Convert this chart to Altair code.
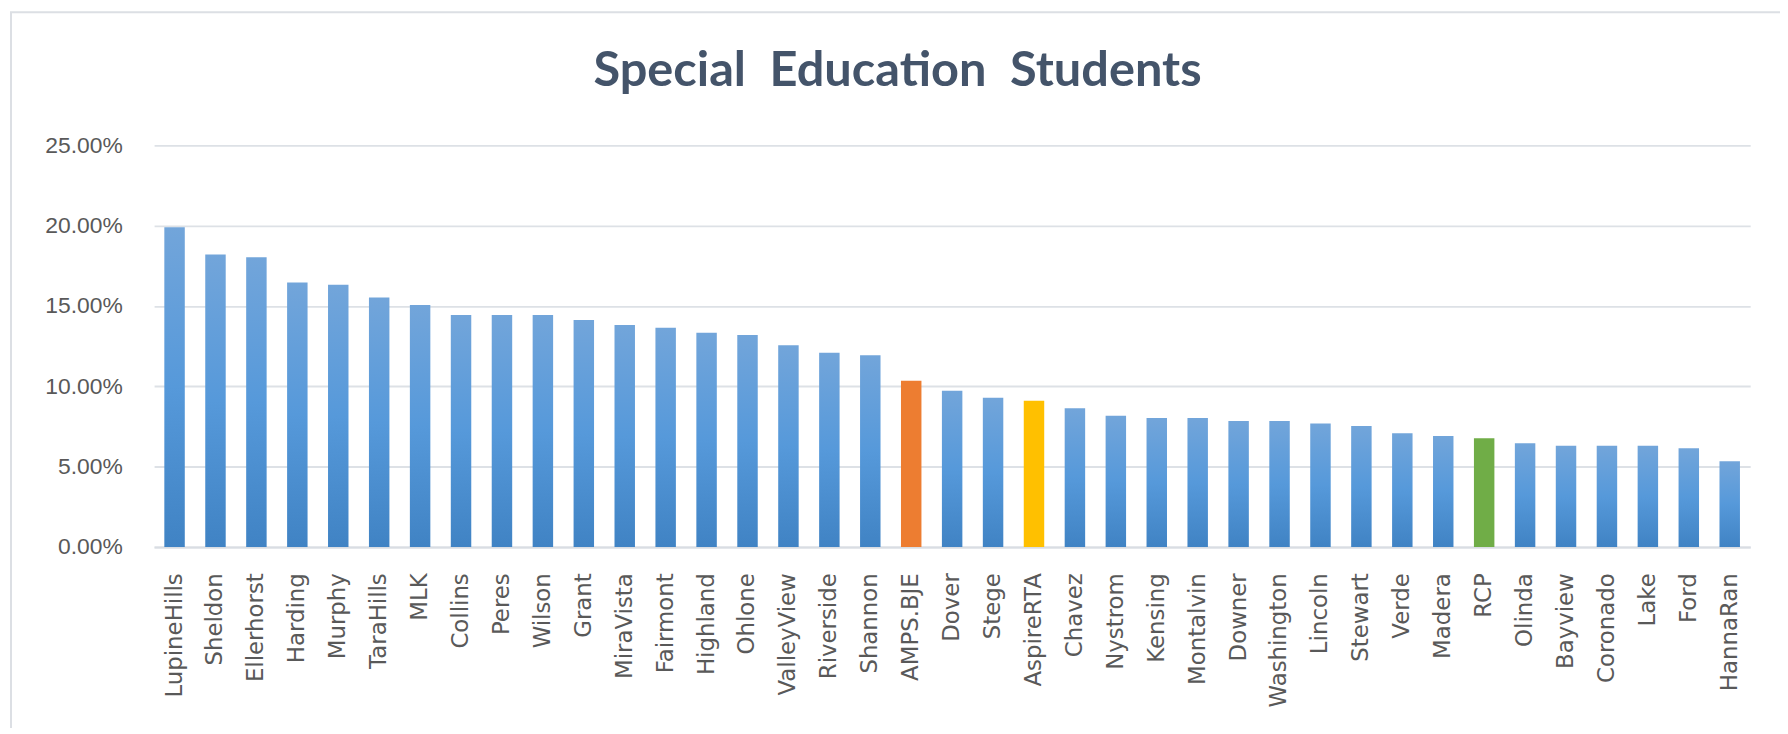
import altair as alt
import pandas as pd

schools = ["LupineHills", "Sheldon", "Ellerhorst", "Harding", "Murphy", "TaraHills", "MLK",
           "Collins", "Peres", "Wilson", "Grant", "MiraVista", "Fairmont", "Highland", "Ohlone",
           "ValleyView", "Riverside", "Shannon", "AMPS.BJE", "Dover", "Stege", "AspireRTA",
           "Chavez", "Nystrom", "Kensing", "Montalvin", "Downer", "Washington", "Lincoln",
           "Stewart", "Verde", "Madera", "RCP", "Olinda", "Bayview", "Coronado", "Lake",
           "Ford", "HannaRan"]
pct = [0.1991, 0.1820, 0.1803, 0.1646, 0.1632, 0.1553, 0.1506, 0.1444, 0.1444, 0.1444,
       0.1413, 0.1382, 0.1364, 0.1333, 0.1320, 0.1256, 0.1209, 0.1194, 0.1034, 0.0972,
       0.0928, 0.0910, 0.0864, 0.0817, 0.0802, 0.0802, 0.0784, 0.0784, 0.0769, 0.0753,
       0.0707, 0.0691, 0.0676, 0.0645, 0.0629, 0.0629, 0.0629, 0.0614, 0.0534]
highlighted = ["AMPS.BJE", "AspireRTA", "RCP"]
highlight_colors = ["#ED7D31", "#FFC000", "#70AD47"]
y_ticks = [0, 0.05, 0.10, 0.15, 0.20, 0.25]
title_text = "Special\u00a0\u00a0Education\u00a0\u00a0Students"

df = pd.DataFrame({"school": schools, "pct": pct})

blue_gradient = {
    "gradient": "linear", "x1": 0, "y1": 0, "x2": 0, "y2": 1,
    "stops": [
        {"offset": 0, "color": "#72a5da"},
        {"offset": 0.5, "color": "#5699da"},
        {"offset": 1, "color": "#4083c4"},
    ],
}

x_enc = alt.X(
    "school:N", sort=schools, title=None,
    scale=alt.Scale(paddingInner=0.5, paddingOuter=0.25),
    axis=alt.Axis(labelAngle=270, labelFont="DejaVu Sans", labelFontSize=23,
                  labelColor="#595959", ticks=False, labelPadding=26,
                  domainColor="#d9dde3", domainWidth=2, grid=False),
)
y_enc = alt.Y(
    "pct:Q", title=None,
    scale=alt.Scale(domain=[0, 0.25]),
    axis=alt.Axis(values=y_ticks, format=".2%", labelFont="Liberation Sans",
                  labelFontSize=23, labelColor="#595959", ticks=False, domain=False,
                  labelPadding=32, gridColor="#dde1e6", gridWidth=2),
)

base = alt.Chart(df).encode(x=x_enc, y=y_enc)

blue = base.transform_filter(
    ~alt.FieldOneOfPredicate(field="school", oneOf=highlighted)
).mark_bar(color=blue_gradient)

hl = base.transform_filter(
    alt.FieldOneOfPredicate(field="school", oneOf=highlighted)
).mark_bar().encode(
    color=alt.Color("school:N", scale=alt.Scale(domain=highlighted, range=highlight_colors),
                    legend=None)
)

border = alt.Chart(pd.DataFrame({"k": [0]})).mark_rect(
    filled=False, stroke="#dcdfe4", strokeWidth=2
).encode(
    x=alt.value(-144), x2=alt.value(1700), y=alt.value(-134), y2=alt.value(700)
)

chart = alt.layer(border, blue, hl).properties(
    width=1606, height=404,
    autosize=alt.AutoSizeParams(type="none"),
    padding={"left": 147, "top": 136, "right": 30, "bottom": 180},
    title=alt.TitleParams(
        title_text, font="Lato", fontSize=49, fontWeight="bold",
        color="#44546a", anchor="middle", frame="group", dx=-55, offset=-85,
    ),
).configure(background="white").configure_view(stroke=None)

chart.save("out.html", embed_options={"renderer": "svg", "actions": False})
